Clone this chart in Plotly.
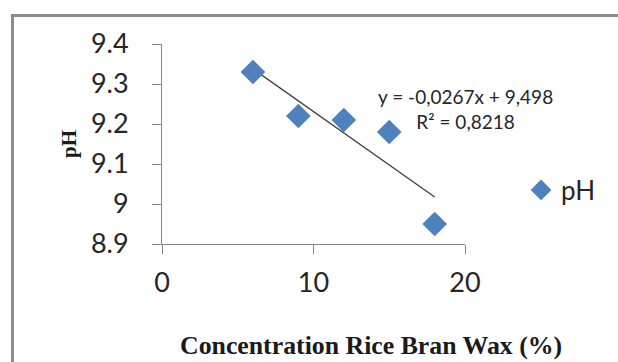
import plotly.graph_objects as go

conc = [6, 9, 12, 15, 18]
ph = [9.33, 9.22, 9.21, 9.18, 8.95]
slope, intercept = -0.0267, 9.498
x_ticks = [0, 10, 20]
y_ticks = [8.9, 9.0, 9.1, 9.2, 9.3, 9.4]
y_tick_text = ["8.9", "9", "9.1", "9.2", "9.3", "9.4"]

trend_x = [min(conc), max(conc)]
trend_y = [slope * v + intercept for v in trend_x]

fig = go.Figure()
fig.add_trace(go.Scatter(x=trend_x, y=trend_y, mode="lines",
                         line=dict(color="#404040", width=1.3),
                         showlegend=False, hoverinfo="skip"))
fig.add_trace(go.Scatter(x=conc, y=ph, mode="markers", name="pH",
                         marker=dict(symbol="diamond", size=19, color="#4f81bd")))

fig.update_layout(
    width=618, height=362,
    margin=dict(l=162, r=153, t=44, b=118),
    paper_bgcolor="white", plot_bgcolor="white",
    font=dict(family="Lato, Open Sans, sans-serif", color="#262626"),
    legend=dict(x=1.185, y=0.27, yanchor="middle", xanchor="left",
                font=dict(size=26, family="Lato, sans-serif"),
                bgcolor="rgba(0,0,0,0)"),
    annotations=[
        dict(xref="paper", yref="paper", x=1.0, y=0.675,
             xanchor="center", yanchor="middle", showarrow=False,
             align="center",
             text="y = -0,0267x + 9,498<br>R² = 0,8218",
             font=dict(size=19, family="Lato, sans-serif", color="#262626")),
        dict(xref="paper", yref="paper", x=0.69, y=-0.505,
             xanchor="center", yanchor="middle", showarrow=False,
             text="<b>Concentration Rice Bran Wax (%)</b>",
             font=dict(family="Liberation Serif, serif", size=25.8, color="#1a1a1a")),
    ],
    shapes=[dict(type="rect", xref="paper", yref="paper",
                 x0=-0.4934, x1=2.0, y0=-1.0, y1=1.1425,
                 line=dict(color="#8c8c8c", width=3), layer="below")],
)
fig.update_xaxes(range=[0, 20], tickvals=x_ticks, showgrid=False, zeroline=False,
                 showline=True, linecolor="#868686", linewidth=1,
                 ticks="outside", ticklen=9, tickcolor="#868686",
                 tickfont=dict(size=27), ticklabelstandoff=6)
fig.update_yaxes(range=[8.9, 9.4], tickvals=y_ticks, ticktext=y_tick_text,
                 showgrid=False, zeroline=False,
                 showline=True, linecolor="#868686", linewidth=1,
                 ticks="outside", ticklen=9, tickcolor="#868686",
                 tickfont=dict(size=27), ticklabelstandoff=18,
                 title=dict(text="<b>pH</b>",
                            font=dict(family="Liberation Serif, serif", size=21, color="#1a1a1a"),
                            standoff=8))

fig.write_html("out.html")
